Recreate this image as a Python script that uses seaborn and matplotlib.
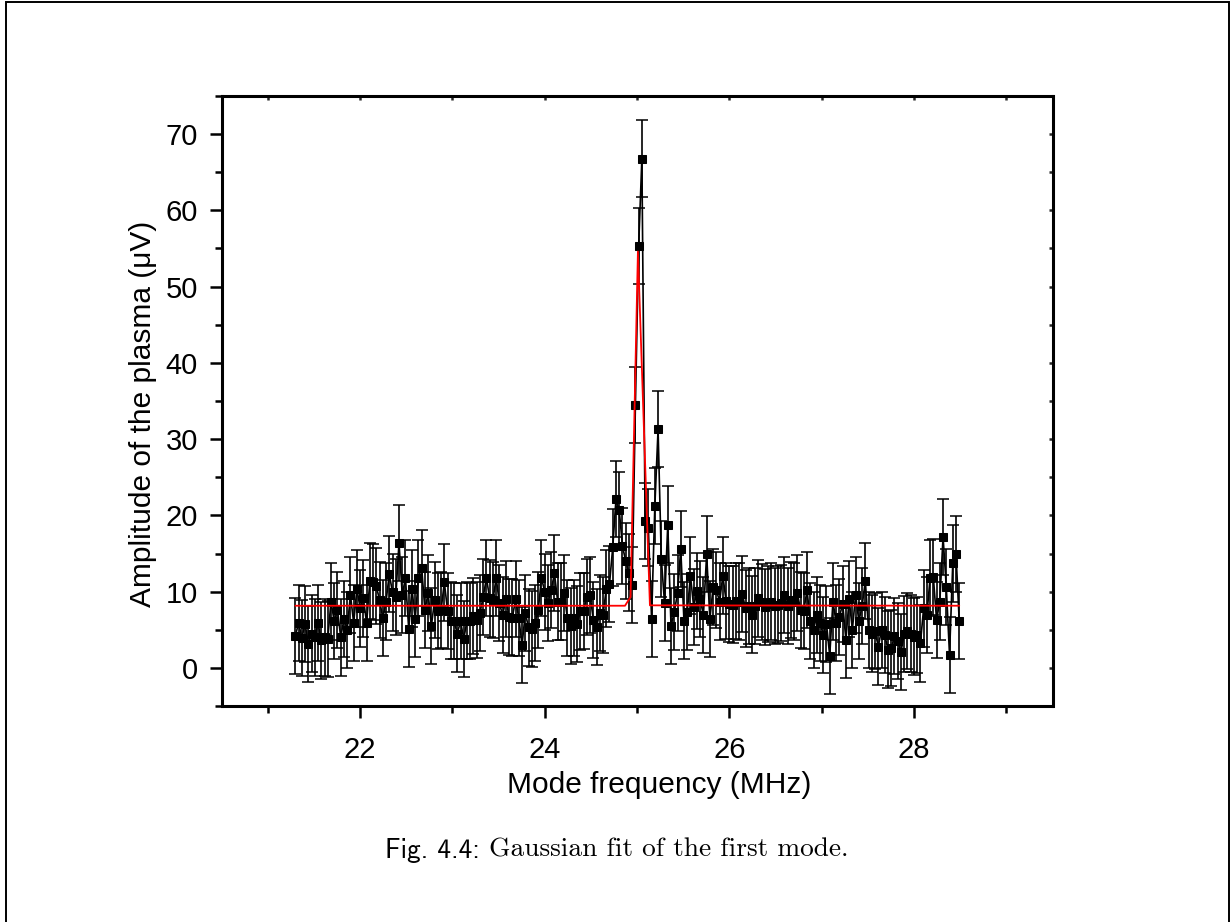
import numpy as np
import pandas as pd
import matplotlib
matplotlib.use("Agg")
import matplotlib.pyplot as plt
import seaborn as sns
from matplotlib.patches import Rectangle
from matplotlib.ticker import MultipleLocator

# ---------------- data ----------------
freq_start = 21.30   # MHz, first point of the sweep
freq_stop = 28.49    # MHz, last point of the sweep

amplitude = [
    4.2, 5.9, 3.9, 5.8, 3.1, 4.5, 4.0, 5.9, 3.6, 4.0,
    3.8, 8.7, 6.1, 7.6, 4.0, 6.4, 5.0, 9.6, 5.9, 10.4,
    7.8, 9.1, 5.9, 11.4, 11.3, 10.7, 8.9, 6.5, 8.7, 12.3,
    9.9, 9.3, 16.4, 9.6, 11.8, 5.1, 10.4, 6.4, 11.8, 13.1,
    7.6, 9.8, 5.5, 8.9, 7.5, 7.6, 11.2, 7.5, 6.2, 6.1,
    4.5, 6.1, 3.8, 6.2, 6.1, 6.8, 6.3, 7.2,
    9.3, 11.8, 9.1, 8.9, 11.8, 8.5, 6.9, 9.0, 6.7, 6.6,
    9.0, 6.5, 3.0, 7.2, 5.3, 5.1, 5.9, 7.6, 11.8, 10.0,
    8.5, 10.2, 12.4, 8.7, 8.7, 9.8, 6.5, 5.5, 6.5, 5.8,
    7.4, 7.5, 9.3, 9.6, 6.3, 5.4, 7.2, 6.9, 10.4, 11.0,
    15.8, 22.1, 20.7, 16.0, 14.0, 12.5, 10.9,
    34.5, 55.3, 66.8, 19.3, 18.4, 6.4, 21.2, 31.3,
    14.3, 8.5, 18.8, 5.5, 7.3, 9.8, 15.6, 6.2, 7.3, 12.1,
    8.0, 10.1, 9.0, 6.9, 14.9, 6.4, 10.6, 10.2, 8.7, 12.1,
    8.8, 8.4, 8.3, 8.8, 8.7, 9.7, 7.8, 8.1, 7.0, 8.1,
    9.1, 8.6, 8.0, 8.4, 8.7, 8.1, 8.3, 8.5, 9.6, 8.1,
    8.9, 8.7, 9.8, 7.6, 7.5, 10.2, 6.1, 5.0, 6.9, 5.9,
    4.3, 5.8, 1.6, 8.7, 5.9,
    6.7, 8.4, 3.7, 9.0, 5.0, 9.6, 6.1, 8.1, 11.4, 5.0,
    4.5, 4.8, 2.8, 5.0, 4.3, 2.4, 2.6, 4.2, 3.5, 2.1,
    4.4, 4.8, 4.5, 4.1, 4.3, 3.2, 7.8, 6.9, 11.8, 11.9,
    6.3, 8.7, 17.2, 10.6, 1.7, 13.7, 14.9, 6.1,
]
amp_err = [5.0] * len(amplitude)

# Gaussian fit as drawn (vertices of the red curve)
fit_freq = [21.30, 24.87, 24.93, 25.01, 25.14, 28.49]
fit_amp = [8.15, 8.15, 9.3, 54.6, 8.2, 8.15]

x_ticks = [22, 24, 26, 28]
y_ticks = [0, 10, 20, 30, 40, 50, 60, 70]
x_label = "Mode frequency (MHz)"
y_label = "Amplitude of the plasma (\u03bcV)"
caption_sans = "Fig. 4.4:"
caption_serif = " Gaussian fit of the first mode."

# ---------------- plot ----------------
freq = np.linspace(freq_start, freq_stop, len(amplitude))
df = pd.DataFrame({"freq": freq, "amp": amplitude, "err": amp_err})
fit_df = pd.DataFrame({"freq": fit_freq, "amp": fit_amp})

sns.set_theme(style="ticks")
plt.rcParams["font.family"] = ["Liberation Sans", "DejaVu Sans"]
plt.rcParams["text.color"] = "black"
plt.rcParams["axes.labelcolor"] = "black"

fig = plt.figure(figsize=(12.31, 9.22), dpi=100)
ax = fig.add_axes([221.5 / 1231, 1 - 706 / 922, 831 / 1231, 610 / 922])

ax.errorbar(df["freq"], df["amp"], yerr=df["err"], fmt="none",
            ecolor="black", elinewidth=1.2, capsize=4.3, capthick=1.1, zorder=2)
sns.lineplot(data=df, x="freq", y="amp", ax=ax, color="black", lw=1.2,
             marker="s", markersize=6.2, markeredgecolor="black",
             markerfacecolor="black", sort=False, estimator=None, zorder=3)
sns.lineplot(data=fit_df, x="freq", y="amp", ax=ax, color="#ff0000", lw=1.3,
             sort=False, estimator=None, zorder=4)

ax.set_xlim(20.5, 29.5)
ax.set_ylim(-5, 75)
ax.set_xticks(x_ticks)
ax.set_yticks(y_ticks)
ax.xaxis.set_minor_locator(MultipleLocator(1))
ax.yaxis.set_minor_locator(MultipleLocator(5))

for s in ax.spines.values():
    s.set_visible(True)
    s.set_linewidth(2.2)
    s.set_color("black")

ax.tick_params(axis="both", which="major", direction="out", length=8.5,
               width=1.8, color="black", labelsize=21, labelcolor="black")
ax.tick_params(axis="both", which="minor", direction="out", length=5,
               width=1.8, color="black")
ax.tick_params(axis="x", which="major", pad=13)
ax.tick_params(axis="y", which="major", pad=8.5)

# inward ticks on top/right
axt = ax.secondary_xaxis("top")
axt.set_xticks(x_ticks)
axt.xaxis.set_minor_locator(MultipleLocator(1))
axt.tick_params(which="both", direction="in", length=3, width=1.8, labeltop=False)
axr = ax.secondary_yaxis("right")
axr.set_yticks(y_ticks)
axr.yaxis.set_minor_locator(MultipleLocator(5))
axr.tick_params(which="both", direction="in", length=3, width=1.8, labelright=False)
for a in (axt, axr):
    for s in a.spines.values():
        s.set_visible(False)

ax.set_xlabel(x_label, fontsize=21.5, color="black")
ax.set_ylabel(y_label, fontsize=21.5, color="black")
# label positions (axes coords), matching the reference placement
ax.xaxis.set_label_coords((659.5 - 221.5) / 831, -(785 - 706) / 610)
ax.yaxis.set_label_coords(-(221.5 - 143) / 831, (706 - 414) / 610)
ax.xaxis.label.set_va("center")
ax.yaxis.label.set_va("center")
ax.grid(False)
ax.set_facecolor("white")
fig.patch.set_facecolor("white")

# figure frame
fig.patches.append(Rectangle((5.7 / 1231, -0.01), (1229.3 - 5.7) / 1231, 1.01 - 2.3 / 922,
                             transform=fig.transFigure, fill=False,
                             edgecolor="black", linewidth=1.4, zorder=10))

# caption (sans part + serif part)
cap_y = 1 - 850 / 922
t1 = fig.text(385 / 1231, cap_y, caption_sans, family="cmss10", fontsize=19.7,
              ha="left", va="center", color="black")
fig.canvas.draw()
bb = t1.get_window_extent(fig.canvas.get_renderer())
fig.text(bb.x1 / fig.bbox.width, cap_y, caption_serif, family="cmr10",
         fontsize=19.7, ha="left", va="center", color="black")

fig.savefig("out.png", dpi=100, facecolor="white")
